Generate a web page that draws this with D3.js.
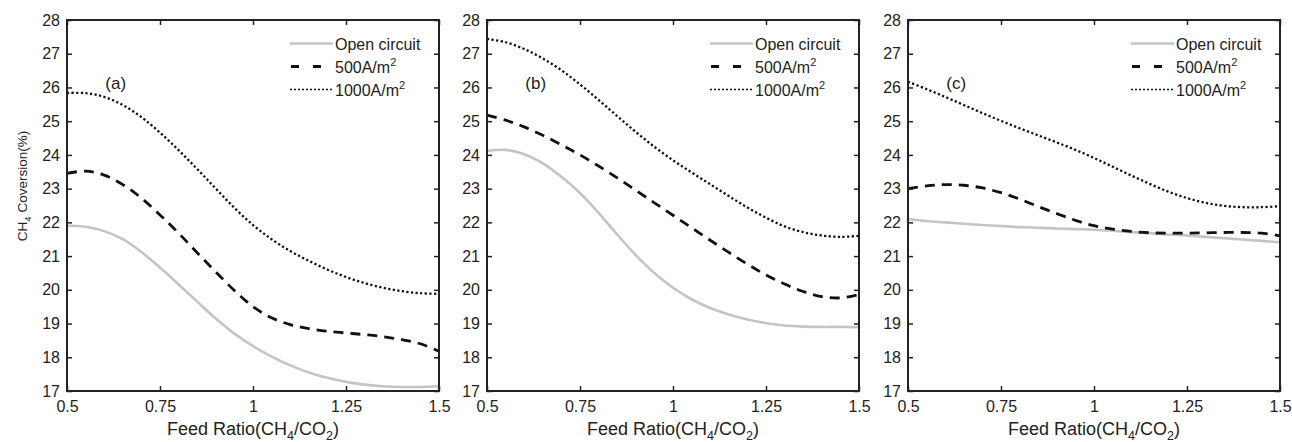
<!DOCTYPE html>
<html>
<head>
<meta charset="utf-8">
<script src="https://cdn.jsdelivr.net/npm/d3@7"></script>
<style>
  html, body { margin: 0; padding: 0; background: #fff; }
  svg { display: block; font-family: "Liberation Sans", Arial, Helvetica, sans-serif; }
</style>
</head>
<body>
<svg id="chart" width="1292" height="442"></svg>
<script>
// ---- data ----
const feedRatio = [0.5, 0.55, 0.6, 0.65, 0.7, 0.75, 0.8, 0.85, 0.9, 0.95, 1.0,
                   1.05, 1.1, 1.15, 1.2, 1.25, 1.3, 1.35, 1.4, 1.45, 1.5];

const seriesNames = ["Open circuit", "500A/m", "1000A/m"];
const panelLabels = ["(a)", "(b)", "(c)"];

const aOpen = [21.9, 21.87, 21.74, 21.5, 21.12, 20.66, 20.16, 19.65, 19.15, 18.7, 18.33,
               18.02, 17.76, 17.55, 17.39, 17.27, 17.19, 17.14, 17.12, 17.12, 17.14];
const a500  = [23.45, 23.52, 23.4, 23.12, 22.72, 22.22, 21.68, 21.1, 20.53, 19.98, 19.5,
               19.17, 18.97, 18.85, 18.77, 18.72, 18.67, 18.61, 18.52, 18.4, 18.18];
const a1000 = [25.84, 25.83, 25.72, 25.48, 25.12, 24.66, 24.14, 23.58, 23.0, 22.43, 21.92,
               21.5, 21.15, 20.86, 20.6, 20.38, 20.2, 20.06, 19.96, 19.9, 19.88];

const bOpen = [24.12, 24.15, 24.02, 23.75, 23.35, 22.87, 22.28, 21.64, 21.03, 20.5, 20.06,
               19.72, 19.46, 19.27, 19.12, 19.01, 18.94, 18.91, 18.9, 18.9, 18.89];
const b500  = [25.18, 25.03, 24.83, 24.58, 24.3, 24.0, 23.67, 23.32, 22.95, 22.58, 22.21,
               21.84, 21.47, 21.11, 20.76, 20.44, 20.17, 19.95, 19.8, 19.76, 19.86];
const b1000 = [27.44, 27.34, 27.14, 26.86, 26.51, 26.09, 25.63, 25.15, 24.68, 24.24, 23.84,
               23.48, 23.13, 22.78, 22.44, 22.14, 21.88, 21.71, 21.61, 21.57, 21.6];

const cOpen = [22.1, 22.04, 22.0, 21.96, 21.92, 21.89, 21.86, 21.84, 21.82, 21.8, 21.78,
               21.75, 21.71, 21.68, 21.64, 21.61, 21.57, 21.53, 21.49, 21.45, 21.41];
const c500  = [23.0, 23.08, 23.12, 23.1, 23.02, 22.88, 22.69, 22.47, 22.26, 22.06, 21.9,
               21.8, 21.73, 21.69, 21.68, 21.68, 21.69, 21.7, 21.7, 21.68, 21.6];
const c1000 = [26.17, 25.95, 25.72, 25.48, 25.24, 25.01, 24.79, 24.58, 24.37, 24.15, 23.91,
               23.65, 23.39, 23.14, 22.91, 22.72, 22.58, 22.49, 22.45, 22.45, 22.48];

const panelSeries = [[aOpen, a500, a1000], [bOpen, b500, b1000], [cOpen, c500, c1000]];

const xTicks = [0.5, 0.75, 1, 1.25, 1.5];
const xTickLabels = ["0.5", "0.75", "1", "1.25", "1.5"];
const yTicks = [17, 18, 19, 20, 21, 22, 23, 24, 25, 26, 27, 28];

// ---- layout & style ----
const panelLefts = [67, 487, 908];
const pw = 372, plotTop = 20, plotBottom = 391;
const styles = [
  { stroke: "#c4c4c4", width: 2.6, dash: null, legendDash: null },
  { stroke: "#111", width: 2.8, dash: "10,7", legendDash: "8,14" },
  { stroke: "#111", width: 2.3, dash: "2.2,2.4", legendDash: "2,2" }
];

const svg = d3.select("#chart");

panelSeries.forEach((series, pi) => {
  const left = panelLefts[pi];
  const x = d3.scaleLinear().domain([0.5, 1.5]).range([left, left + pw]);
  const y = d3.scaleLinear().domain([17, 28]).range([plotBottom, plotTop]);
  const g = svg.append("g");

  const line = d3.line()
    .x((d, i) => x(feedRatio[i]))
    .y(d => y(d))
    .curve(d3.curveCatmullRom.alpha(0.5));

  series.forEach((vals, si) => {
    const st = styles[si];
    g.append("path")
      .attr("d", line(vals))
      .attr("fill", "none")
      .attr("stroke", st.stroke)
      .attr("stroke-width", st.width)
      .attr("stroke-dasharray", st.dash);
  });

  const tickLen = 5;
  const axB = d3.axisBottom(x).tickValues(xTicks).tickSize(-tickLen)
    .tickFormat((d, i) => xTickLabels[i]).tickPadding(10);
  const axT = d3.axisTop(x).tickValues(xTicks).tickSize(-tickLen).tickFormat("");
  const axL = d3.axisLeft(y).tickValues(yTicks).tickSize(-tickLen).tickFormat(d3.format("d")).tickPadding(7);
  const axR = d3.axisRight(y).tickValues(yTicks).tickSize(-tickLen).tickFormat("");

  const gb = g.append("g").attr("transform", `translate(0,${plotBottom})`).call(axB);
  const gt = g.append("g").attr("transform", `translate(0,${plotTop})`).call(axT);
  const gl = g.append("g").attr("transform", `translate(${left},0)`).call(axL);
  const gr = g.append("g").attr("transform", `translate(${left + pw},0)`).call(axR);
  [gb, gt, gl, gr].forEach(a => {
    a.select(".domain").remove();
    a.selectAll(".tick line").attr("stroke", "#222").attr("stroke-width", 1.5);
    a.selectAll("text").attr("font-size", 16).attr("fill", "#222")
      .attr("font-family", "Liberation Sans, Arial, sans-serif");
  });
  gb.selectAll("text").attr("dy", "0.71em");

  g.append("rect")
    .attr("x", left).attr("y", plotTop).attr("width", pw).attr("height", plotBottom - plotTop)
    .attr("fill", "none").attr("stroke", "#222").attr("stroke-width", 2);

  g.append("text")
    .attr("x", x(0.603)).attr("y", y(25.95))
    .attr("font-size", 17).attr("fill", "#222")
    .text(panelLabels[pi]);

  const xt = g.append("text")
    .attr("x", left + pw / 2).attr("y", 435)
    .attr("text-anchor", "middle").attr("font-size", 18).attr("fill", "#222");
  xt.append("tspan").text("Feed Ratio(CH");
  xt.append("tspan").attr("dy", 5).attr("font-size", 12.5).text("4");
  xt.append("tspan").attr("dy", -5).text("/CO");
  xt.append("tspan").attr("dy", 5).attr("font-size", 12.5).text("2");
  xt.append("tspan").attr("dy", -5).text(")");

  const lx0 = left + pw - 149, lx1 = left + pw - 106, tx = left + pw - 104;
  const rowsY = [43.5, 66.5, 89.5];
  series.forEach((vals, si) => {
    const st = styles[si];
    g.append("line")
      .attr("x1", si === 1 ? lx0 + 1 : lx0).attr("x2", lx1).attr("y1", rowsY[si]).attr("y2", rowsY[si])
      .attr("stroke", st.stroke)
      .attr("stroke-width", si === 2 ? 1.3 : st.width)
      .attr("stroke-dasharray", st.legendDash);
    const t = g.append("text")
      .attr("x", tx).attr("y", rowsY[si] + 6)
      .attr("font-size", 16).attr("fill", "#222");
    t.append("tspan").text(seriesNames[si]);
    if (si > 0) t.append("tspan").attr("dy", -7).attr("font-size", 11).text("2");
  });

  if (pi === 0) {
    const yt = svg.append("text")
      .attr("transform", "translate(27,186) rotate(-90)")
      .attr("text-anchor", "middle").attr("font-size", 13.5).attr("fill", "#222");
    yt.append("tspan").text("CH");
    yt.append("tspan").attr("dy", 4).attr("font-size", 9.5).text("4");
    yt.append("tspan").attr("dy", -4).text(" Coversion(%)");
  }
});
</script>
</body>
</html>
